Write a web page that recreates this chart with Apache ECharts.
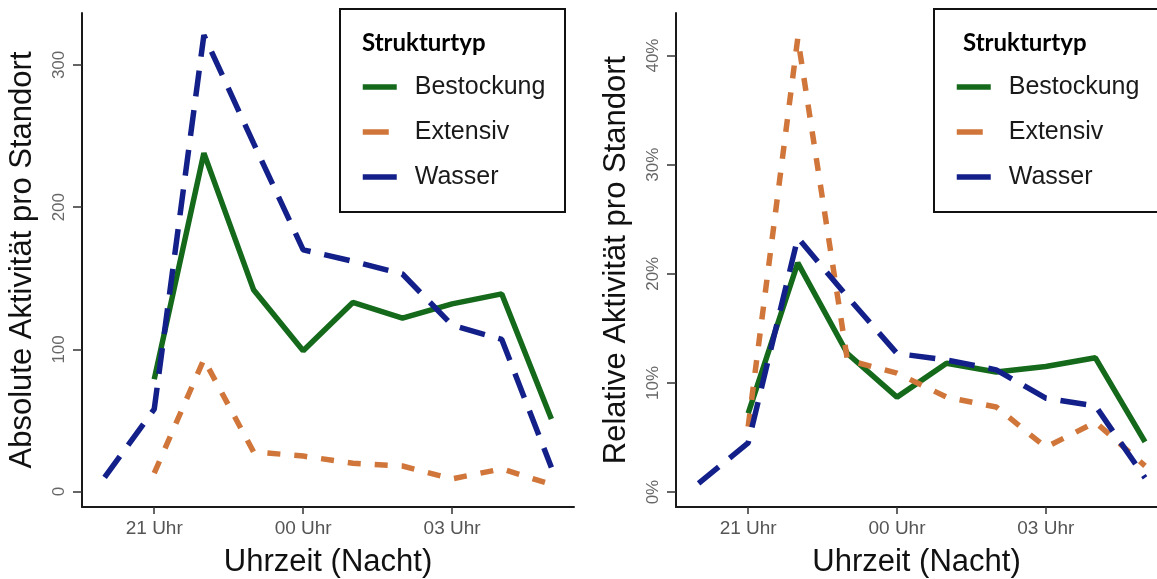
<!DOCTYPE html>
<html>
<head>
<meta charset="utf-8">
<script src="https://cdn.jsdelivr.net/npm/echarts@6/dist/echarts.min.js"></script>
<style>
html,body{margin:0;padding:0;background:#fff;}
#chart{width:1157px;height:579px;}
</style>
</head>
<body>
<div id="chart"></div>
<script>
// ---- data ----
const seriesNames = ['Bestockung', 'Extensiv', 'Wasser'];
const hours = [20, 21, 22, 23, 24, 25, 26, 27, 28, 29]; // 24 = 00 Uhr, 27 = 03 Uhr
const tickHours = [21, 24, 27];
const tickLabels = ['21 Uhr', '00 Uhr', '03 Uhr'];

const absBestockung = [null, 79, 238, 142, 99, 133, 122, 132, 139, 51];
const absExtensiv   = [null, 13, 93, 28, 25, 20, 18, 9, 16, 5];
const absWasser     = [10, 58, 321, 245, 170, 162, 153, 117, 107, 17];
const absTicks      = [0, 100, 200, 300];

const relBestockung = [null, 7.2, 21.0, 12.7, 8.7, 11.8, 11.0, 11.5, 12.3, 4.6];
const relExtensiv   = [null, 6.0, 41.6, 12.1, 10.9, 8.7, 7.8, 4.1, 6.4, 2.4];
const relWasser     = [0.8, 4.5, 23.3, 17.9, 12.7, 12.1, 11.2, 8.6, 7.9, 1.3];
const relTicks      = [0, 10, 20, 30, 40];

// ---- styles ----
const colors = { Bestockung: '#15691b', Extensiv: '#d0763a', Wasser: '#13208a' };
const dashes = { Bestockung: 'solid', Extensiv: [13, 14], Wasser: [26, 14] };
const legendDashes = { Bestockung: 'solid', Extensiv: [26, 24], Wasser: [54, 30] };
const FONT = '"Liberation Sans", Arial, sans-serif';
const LW = 5.5;

function pairs(vals) { return hours.map((h, i) => [h, vals[i]]); }

function mkSeries(name, vals, idx) {
  return {
    type: 'line', name: name, data: pairs(vals),
    xAxisIndex: idx, yAxisIndex: idx,
    symbol: 'none', showSymbol: false, connectNulls: false,
    lineStyle: { color: colors[name], width: LW, type: dashes[name], cap: 'butt', join: 'bevel' },
    itemStyle: { color: colors[name] },
    animation: false, z: 2
  };
}

function xAxis(idx, max) {
  return {
    type: 'value', gridIndex: idx, min: 19.545, max: max,
    name: 'Uhrzeit (Nacht)', nameLocation: 'middle', nameGap: 40,
    nameTextStyle: { fontFamily: FONT, fontSize: 31, color: '#111' },
    axisLine: { show: true, onZero: false, lineStyle: { color: '#1a1a1a', width: 2 } },
    axisTick: { show: true, length: 7, customValues: tickHours, lineStyle: { color: '#333', width: 1.5 } },
    axisLabel: {
      customValues: tickHours, margin: 12,
      fontFamily: FONT, fontSize: 19, color: '#555',
      formatter: v => tickLabels[tickHours.indexOf(Math.round(v))] || ''
    },
    splitLine: { show: false }
  };
}

function yAxis(idx, name, min, max, ticks, suffix) {
  return {
    type: 'value', gridIndex: idx, min: min, max: max,
    name: name, nameLocation: 'middle', nameGap: 44, nameRotate: 90,
    nameTextStyle: { fontFamily: FONT, fontSize: 31, color: '#111' },
    axisLine: { show: true, onZero: false, lineStyle: { color: '#1a1a1a', width: 2 } },
    axisTick: { show: true, length: 9, customValues: ticks, lineStyle: { color: '#333', width: 1.5 } },
    axisLabel: {
      customValues: ticks, rotate: 90, margin: 14,
      fontFamily: FONT, fontSize: 17, color: '#666',
      formatter: v => v + suffix
    },
    splitLine: { show: false }
  };
}

function legend(left) {
  return {
    data: seriesNames.map(n => ({
      name: n,
      itemStyle: { opacity: 0 },
      lineStyle: { color: colors[n], width: LW, type: legendDashes[n], cap: 'butt' }
    })),
    orient: 'vertical', left: left, top: 73,
    padding: 0, itemWidth: 34, itemHeight: 14, itemGap: 17,
    selectedMode: false, z: 10,
    textStyle: { fontFamily: FONT, fontSize: 25, color: '#1a1a1a', lineHeight: 28, padding: [0, 0, 0, 13] }
  };
}

const chart = echarts.init(document.getElementById('chart'), null, { renderer: 'canvas' });
chart.setOption({
  backgroundColor: '#ffffff',
  animation: false,
  grid: [
    { left: 82, top: 13, width: 492, height: 494, containLabel: false, outerBoundsMode: 'none' },
    { left: 676, top: 13, width: 481, height: 494, containLabel: false, outerBoundsMode: 'none' }
  ],
  xAxis: [xAxis(0, 29.455), xAxis(1, 29.242)],
  yAxis: [
    yAxis(0, 'Absolute Aktivität pro Standort', -10.8, 336.5, absTicks, ''),
    yAxis(1, 'Relative Aktivität pro Standort', -1.37, 43.9, relTicks, '%')
  ],
  legend: [legend(360), legend(954)],
  graphic: [
    { type: 'rect', shape: { x: 340, y: 9, width: 225, height: 203 }, style: { fill: '#fff', stroke: '#111', lineWidth: 2 }, z: 9 },
    { type: 'rect', shape: { x: 934, y: 9, width: 240, height: 203 }, style: { fill: '#fff', stroke: '#111', lineWidth: 2 }, z: 9 },
    { type: 'text', left: 362, top: 31, style: { text: 'Strukturtyp', fontFamily: 'Lato, "Open Sans", sans-serif', fontWeight: 'bold', fontSize: 24, fill: '#000' }, z: 11 },
    { type: 'text', left: 963, top: 31, style: { text: 'Strukturtyp', fontFamily: 'Lato, "Open Sans", sans-serif', fontWeight: 'bold', fontSize: 24, fill: '#000' }, z: 11 }
  ],
  series: [
    mkSeries('Bestockung', absBestockung, 0),
    mkSeries('Extensiv', absExtensiv, 0),
    mkSeries('Wasser', absWasser, 0),
    mkSeries('Bestockung', relBestockung, 1),
    mkSeries('Extensiv', relExtensiv, 1),
    mkSeries('Wasser', relWasser, 1)
  ]
});
</script>
</body>
</html>
